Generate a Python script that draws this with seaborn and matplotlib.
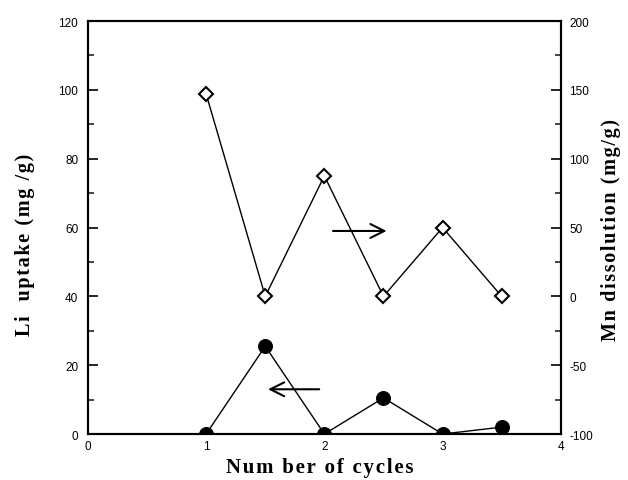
import matplotlib
matplotlib.use("Agg")
import matplotlib.pyplot as plt
import seaborn as sns
import pandas as pd
from matplotlib.ticker import MultipleLocator

cycles = [1, 1.5, 2, 2.5, 3, 3.5]
li_uptake = [0, 25.5, 0, 10.5, 0, 2]
mn_dissolution = [147, 0, 87.5, 0, 50, 0]

x_label = "Num ber of cycles"
y_label_left = "Li  uptake (mg /g)"
y_label_right = "Mn dissolution (mg/g)"

sns.set_theme(style="white")
plt.rcParams['font.family'] = ['Liberation Sans', 'DejaVu Sans']
plt.rcParams['axes.unicode_minus'] = False
plt.rcParams['text.color'] = 'black'
plt.rcParams['axes.labelcolor'] = 'black'

df = pd.DataFrame({"cycles": cycles, "li": li_uptake, "mn": mn_dissolution})

def spaced(s):
    return "\u200a".join(s)

fig = plt.figure(figsize=(6.28, 4.81), dpi=100)
ax = fig.add_axes([0.140, 0.0956, 0.753, 0.8586])
ax2 = ax.twinx()

sns.lineplot(data=df, x="cycles", y="li", ax=ax, color="black", linewidth=1.0,
             marker="o", markersize=10, markerfacecolor="black", markeredgecolor="black")
sns.lineplot(data=df, x="cycles", y="mn", ax=ax2, color="black", linewidth=1.0,
             marker="D", markersize=7, markerfacecolor="white", markeredgecolor="black",
             markeredgewidth=1.5)

ax.set_xlim(0, 4)
ax.set_ylim(0, 120)
ax2.set_ylim(-100, 200)

ax.xaxis.set_major_locator(MultipleLocator(1))
ax.yaxis.set_major_locator(MultipleLocator(20))
ax.yaxis.set_minor_locator(MultipleLocator(10))
ax2.yaxis.set_major_locator(MultipleLocator(50))
ax2.yaxis.set_minor_locator(MultipleLocator(25))

for a in (ax, ax2):
    for s in a.spines.values():
        s.set_color("black")
        s.set_linewidth(1.5)
    a.tick_params(which="major", direction="in", length=7, width=1.2, labelsize=8.5, colors="black", pad=7)
    a.tick_params(which="minor", direction="in", length=4, width=1.2)

ax.tick_params(axis="x", which="major", length=5, pad=4)
ax.tick_params(axis="y", left=True, right=False)
ax.tick_params(axis="x", bottom=True, top=False)
ax2.tick_params(axis="y", right=True, left=False, pad=6)
ax.grid(False)
ax2.grid(False)

serif = ['Liberation Serif', 'DejaVu Serif']
ax.set_xlabel(spaced(x_label), fontsize=15, fontweight="bold", family=serif, color="black")
ax.set_ylabel(spaced(y_label_left), fontsize=14.5, fontweight="bold", family=serif, color="black")
ax2.set_ylabel(spaced(y_label_right), fontsize=14.5, fontweight="bold", family=serif, color="black")
ax.xaxis.set_label_coords(0.49, -0.056)
ax.yaxis.set_label_coords(-0.112, 0.46)
ax2.yaxis.set_label_coords(1.084, 0.496)

ax.annotate("", xy=(2.55, 59), xytext=(2.05, 59),
            arrowprops=dict(arrowstyle="->", color="black", lw=1.5, mutation_scale=25))
ax.annotate("", xy=(1.5, 13), xytext=(1.98, 13),
            arrowprops=dict(arrowstyle="->", color="black", lw=1.5, mutation_scale=25))

fig.savefig("out.png", dpi=100)
